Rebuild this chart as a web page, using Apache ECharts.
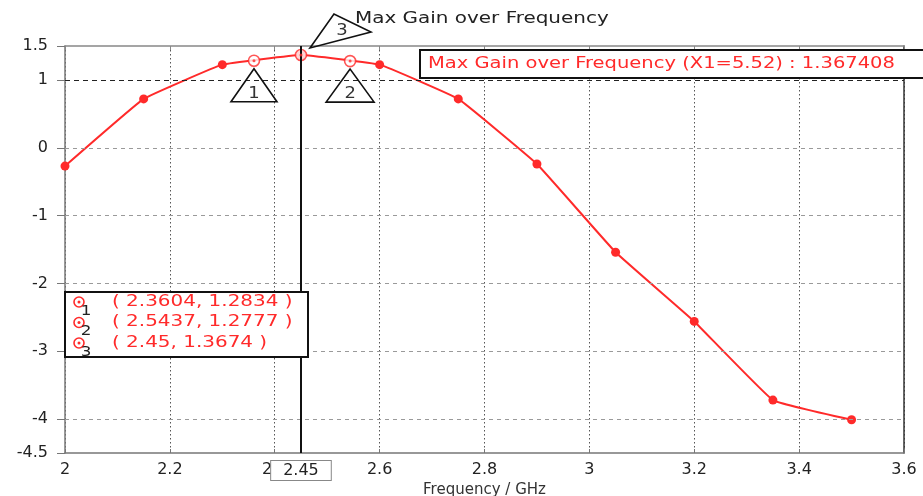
<!DOCTYPE html>
<html>
<head>
<meta charset="utf-8" />
<title>Max Gain over Frequency</title>
<script src="https://cdn.jsdelivr.net/npm/echarts@6/dist/echarts.min.js"></script>
<style>
  html, body { margin: 0; padding: 0; background: #fff; }
  #chart { width: 923px; height: 496px; }
</style>
</head>
<body>
<div id="chart"></div>
<script type="text/javascript">
    // 曲线数据
    var freqs = [2, 2.15, 2.3, 2.45, 2.6, 2.75, 2.9, 3.05, 3.2, 3.35, 3.5];
    var gain = [-0.27, 0.72, 1.225, 1.3674, 1.225, 0.72, -0.24, -1.54, -2.56, -3.72, -4.01];
    // 标记点
    var markerNames = ['1', '2', '3'];
    var markerX = [2.3604, 2.5437, 2.45];
    var markerY = [1.2834, 1.2777, 1.3674];
    // 坐标轴
    var yTicks = [1.5, 1, 0, -1, -2, -3, -4, -4.5];
    var yGrid = [1, 0, -1, -2, -3, -4];
    var cursorX = 2.45;
    var maxText = 'Max Gain over Frequency (X1=5.52) : 1.367408';

    var FONT = '"DejaVu Sans", Verdana, sans-serif';
    var RED = '#ff2a2a';

    var lineData = [], markerData = [];
    for (var i = 0; i < freqs.length; i++) lineData.push([freqs[i], gain[i]]);
    for (var j = 0; j < markerX.length; j++) markerData.push([markerX[j], markerY[j]]);

    var gridLines = [];
    for (var k = 0; k < yGrid.length; k++) {
        gridLines.push({
            yAxis: yGrid[k],
            lineStyle: yGrid[k] === 1
                ? { color: '#222', type: [5, 4], width: 1.2 }
                : { color: '#9a9a9a', type: [4, 4], width: 1 }
        });
    }

    var myChart = echarts.init(document.getElementById('chart'));

    myChart.setOption({
        animation: false,
        grid: { left: 65, right: 19, top: 46, bottom: 43, outerBoundsMode: 'none' },
        xAxis: [{
            type: 'value', min: 2, max: 3.6, interval: 0.2,
            name: 'Frequency / GHz', nameLocation: 'middle', nameGap: 30,
            nameTextStyle: { fontFamily: FONT, fontSize: 15, color: '#333' },
            axisLine: { onZero: false, lineStyle: { color: '#777', width: 1.5 } },
            axisTick: { inside: true, length: 4, lineStyle: { color: '#777' } },
            axisLabel: {
                margin: 9, fontFamily: FONT, fontSize: 16, color: '#222',
                formatter: function (v) { return String(+v.toFixed(2)); }
            },
            splitLine: { show: true, lineStyle: { color: '#555', type: [1.5, 2.5], width: 1 } }
        }, {
            type: 'value', min: 2, max: 3.6, interval: 0.2, position: 'top',
            axisLine: { onZero: false, lineStyle: { color: '#888', width: 1.5 } },
            axisTick: { inside: true, length: 4, lineStyle: { color: '#888' } },
            axisLabel: { show: false },
            splitLine: { show: false }
        }],
        yAxis: [{
            type: 'value', min: -4.5, max: 1.5, interval: 0.5,
            axisLine: { onZero: false, lineStyle: { color: '#777', width: 1.5 } },
            axisTick: { length: 8, customValues: yTicks, lineStyle: { color: '#777' } },
            axisLabel: {
                margin: 17, fontFamily: FONT, fontSize: 16, color: '#222',
                customValues: yTicks
            },
            splitLine: { show: false }
        }, {
            type: 'value', min: -4.5, max: 1.5, interval: 0.5, position: 'right',
            axisLine: { show: true, onZero: false, lineStyle: { color: '#333', width: 1.5 } },
            axisTick: { show: false },
            axisLabel: { show: false },
            splitLine: { show: false }
        }],
        series: [{
            type: 'line',
            data: lineData,
            smooth: 0.08,
            symbol: 'circle',
            symbolSize: 9,
            itemStyle: { color: RED },
            lineStyle: { color: RED, width: 2 },
            markLine: {
                silent: true, symbol: 'none', label: { show: false },
                data: gridLines
            },
            z: 3
        }, {
            type: 'scatter',
            data: markerData,
            symbol: 'circle',
            symbolSize: 11,
            itemStyle: { color: '#fff', borderColor: RED, borderWidth: 1.6 },
            markLine: {
                silent: true, symbol: 'none',
                lineStyle: { color: '#111', type: 'solid', width: 2 },
                label: {
                    show: true, position: 'start', distance: 8,
                    formatter: String(cursorX),
                    fontFamily: FONT, fontSize: 16, color: '#222',
                    backgroundColor: '#fff', borderColor: '#888', borderWidth: 1,
                    padding: [2, 12, 1, 12]
                },
                data: [{ xAxis: cursorX }]
            },
            z: 4
        }, {
            type: 'scatter',
            data: markerData,
            symbol: 'circle',
            symbolSize: 3,
            itemStyle: { color: RED },
            z: 5
        }]
    });

    // 标注三角形、标题、读数框
    var g = [];
    var tri = [
        { pts: [[0, 8], [-23, 41], [23, 41]], lab: [0, 33] },
        { pts: [[0, 8], [-24, 41], [24, 41]], lab: [0, 33] },
        { pts: [[9, -7], [33, -41], [70, -23]], lab: [41, -24] }
    ];
    for (var m = 0; m < markerX.length; m++) {
        var p = myChart.convertToPixel({ gridIndex: 0 }, [markerX[m], markerY[m]]);
        var t = tri[m];
        g.push({
            type: 'polygon', z: 10,
            shape: { points: t.pts.map(function (q) { return [p[0] + q[0], p[1] + q[1]]; }) },
            style: { fill: 'rgba(255,255,255,0)', stroke: '#111', lineWidth: 1.6 }
        });
        g.push({
            type: 'text', z: 11, x: p[0] + t.lab[0], y: p[1] + t.lab[1], scaleX: 1.2,
            style: { text: markerNames[m], font: '15px ' + FONT, fill: '#333', align: 'center', verticalAlign: 'middle' }
        });
    }

    g.push({
        type: 'text', z: 9, x: 355, y: 19, scaleX: 1.33,
        style: { text: 'Max Gain over Frequency', font: '15px ' + FONT, fill: '#222', verticalAlign: 'middle' }
    });

    g.push({
        type: 'rect', z: 12, shape: { x: 420, y: 50, width: 520, height: 28 },
        style: { fill: '#fff', stroke: '#111', lineWidth: 2 }
    });
    g.push({
        type: 'text', z: 13, x: 428, y: 64, scaleX: 1.3,
        style: { text: maxText, font: '15px ' + FONT, fill: RED, verticalAlign: 'middle' }
    });

    // 读数表
    g.push({
        type: 'rect', z: 12, shape: { x: 65, y: 292, width: 243, height: 65 },
        style: { fill: '#fff', stroke: '#111', lineWidth: 2 }
    });
    for (var r = 0; r < markerX.length; r++) {
        var yy = 302 + r * 20.5;
        g.push({
            type: 'circle', z: 13, shape: { cx: 79, cy: yy, r: 5 },
            style: { fill: '#fff', stroke: RED, lineWidth: 1.6 }
        });
        g.push({
            type: 'circle', z: 14, shape: { cx: 79, cy: yy, r: 1.5 },
            style: { fill: RED }
        });
        g.push({
            type: 'text', z: 14, x: 86, y: yy + 9, scaleX: 1.2,
            style: { text: markerNames[r], font: '14px ' + FONT, fill: '#222', align: 'center', verticalAlign: 'middle' }
        });
        g.push({
            type: 'text', z: 13, x: 112, y: yy, scaleX: 1.33,
            style: {
                text: '( ' + markerX[r] + ', ' + markerY[r] + ' )',
                font: '15px ' + FONT, fill: RED, verticalAlign: 'middle'
            }
        });
    }

    myChart.setOption({ graphic: g });
</script>
</body>
</html>
